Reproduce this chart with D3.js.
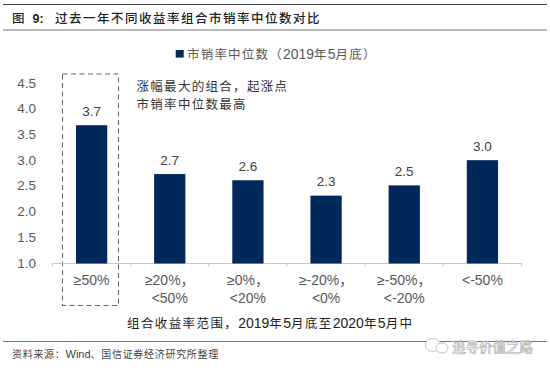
<!DOCTYPE html>
<html>
<head>
<meta charset="utf-8">
<script src="https://cdn.jsdelivr.net/npm/d3@7"></script>
<style>
  html, body { margin: 0; padding: 0; background: #fff; }
  text { font-family: "Liberation Sans", "Noto Sans CJK SC", sans-serif; }
</style>
</head>
<body>
<div id="app"></div>
<script>
// full-width punctuation, written as escapes
const comma = "\uFF0C", colon = "\uFF1A", lp = "\uFF08", rp = "\uFF09";

const categories = [["≥50%"], ["≥20%" + comma, "<50%"], ["≥0%" + comma, "<20%"], ["≥-20%" + comma, "<0%"], ["≥-50%" + comma, "<-20%"], ["<-50%"]];
const values = [3.69, 2.74, 2.62, 2.32, 2.52, 3.01];
const yTicks = [1.0, 1.5, 2.0, 2.5, 3.0, 3.5, 4.0, 4.5];

const titleText = "过去一年不同收益率组合市销率中位数对比";
const legendText = "市销率中位数" + lp + "2019年5月底" + rp;
const noteLines = ["涨幅最大的组合" + comma + "起涨点", "市销率中位数最高"];
const xTitle = "组合收益率范围" + comma + "2019年5月底至2020年5月中";
const sourceText = "资料来源" + colon + "Wind、国信证券经济研究所整理";
const watermark = "追寻价值之路";

const navy = "#00285A";
const gray = "#595959";

const svg = d3.select("#app").append("svg")
  .attr("width", 550)
  .attr("height", 370)
  .style("display", "block");

// CJK runs get extra tracking, latin and digits can have their own size
const mixedText = (sel, str, spacing, latinSize) => {
  str.match(/[\x20-\x7e]+|[^\x20-\x7e]+/g).forEach(run => {
    const latin = /^[\x20-\x7e]/.test(run);
    const span = sel.append("tspan")
      .attr("letter-spacing", latin ? 0 : spacing)
      .text(run);
    if (latin && latinSize) span.attr("font-size", latinSize);
  });
  return sel;
};

// rules around the title and above the source
[[4.5, "#444"], [30, "#777"], [341.5, "#777"]].forEach(([y, c]) => {
  svg.append("line")
    .attr("x1", 3).attr("x2", 547)
    .attr("y1", y).attr("y2", y)
    .attr("stroke", c).attr("stroke-width", 1);
});

const title = svg.append("g")
  .attr("font-size", 12.5)
  .attr("font-weight", 500)
  .attr("fill", "#222");
title.append("text").attr("x", 12).attr("y", 23).text("图");
title.append("text").attr("x", 32.5).attr("y", 23).attr("font-weight", 700).text("9:");
title.append("text").attr("x", 55).attr("y", 23).attr("letter-spacing", 1.5).text(titleText);

const x = d3.scaleBand()
  .domain(d3.range(values.length))
  .range([52.5, 521.5])
  .paddingInner(0.6)
  .paddingOuter(0.3);

const y = d3.scaleLinear()
  .domain([1, 4.5])
  .range([263.5, 83.6]);

// dashed box around the first group
svg.append("rect")
  .attr("x", 62.5).attr("y", 74)
  .attr("width", 56).attr("height", 231.5)
  .attr("fill", "none")
  .attr("stroke", "#666")
  .attr("stroke-width", 1.1)
  .attr("stroke-dasharray", "5,3.5");

const yAxis = d3.axisLeft(y)
  .tickValues(yTicks)
  .tickFormat(d3.format(".1f"))
  .tickSize(0)
  .tickPadding(0);

const gy = svg.append("g")
  .attr("transform", "translate(36,0)")
  .call(yAxis);
gy.select(".domain").remove();
gy.selectAll("text")
  .attr("font-size", 13.5)
  .attr("fill", gray)
  .attr("dy", "0.26em");

// axis line with ticks between the categories
const xBase = svg.append("g");
xBase.append("line")
  .attr("x1", x.range()[0]).attr("x2", x.range()[1])
  .attr("y1", y(1)).attr("y2", y(1))
  .attr("stroke", "#c8c8c8");
xBase.selectAll("line.tick")
  .data(d3.range(values.length + 1))
  .join("line")
  .attr("class", "tick")
  .attr("x1", i => x.range()[0] + i * x.step())
  .attr("x2", i => x.range()[0] + i * x.step())
  .attr("y1", y(1))
  .attr("y2", y(1) + 3)
  .attr("stroke", "#c8c8c8");

svg.selectAll("rect.bar")
  .data(values)
  .join("rect")
  .attr("class", "bar")
  .attr("x", (d, i) => x(i))
  .attr("y", d => y(d))
  .attr("width", x.bandwidth())
  .attr("height", d => y(1) - y(d))
  .attr("fill", navy);

svg.selectAll("text.val")
  .data(values)
  .join("text")
  .attr("class", "val")
  .attr("x", (d, i) => x(i) + x.bandwidth() / 2)
  .attr("y", d => y(d) - 9.5)
  .attr("text-anchor", "middle")
  .attr("font-size", 13.5)
  .attr("fill", "#404040")
  .text(d => d.toFixed(1));

const catGroups = svg.selectAll("g.cat")
  .data(categories)
  .join("g")
  .attr("class", "cat")
  .attr("transform", (d, i) => `translate(${x(i) + x.bandwidth() / 2},285)`);
catGroups.selectAll("text")
  .data(d => d)
  .join("text")
  .attr("y", (d, i) => i * 17.5)
  .attr("text-anchor", "middle")
  .attr("font-size", 14)
  .attr("fill", gray)
  .text(d => d);

// legend
svg.append("rect")
  .attr("x", 175.7).attr("y", 50)
  .attr("width", 8).attr("height", 7.6)
  .attr("fill", navy);
svg.append("text")
  .attr("x", 187).attr("y", 59)
  .attr("font-size", 12.5)
  .attr("fill", gray)
  .call(mixedText, legendText, 1.2, 14);

// note next to the box
svg.selectAll("text.note")
  .data(noteLines)
  .join("text")
  .attr("class", "note")
  .attr("x", 136.5)
  .attr("y", (d, i) => 91 + i * 18)
  .attr("font-size", 12.5)
  .attr("letter-spacing", 1.3)
  .attr("fill", "#333")
  .text(d => d);

svg.append("text")
  .attr("x", 127).attr("y", 327.5)
  .attr("font-size", 12.5)
  .attr("fill", "#222")
  .call(mixedText, xTitle, 1.4, 14);

svg.append("text")
  .attr("x", 12).attr("y", 358)
  .attr("font-size", 10)
  .attr("fill", "#444")
  .call(mixedText, sourceText, 0.7, 11);

// watermark: chat bubble outline and name
const wm = svg.append("g")
  .attr("fill", "#fff")
  .attr("stroke", "#c4c4c4")
  .attr("stroke-width", 1);
wm.append("ellipse").attr("cx", 433).attr("cy", 345).attr("rx", 7.5).attr("ry", 6.5);
wm.append("ellipse").attr("cx", 442).attr("cy", 348).attr("rx", 6).attr("ry", 5);
svg.append("text")
  .attr("x", 452).attr("y", 352)
  .attr("font-size", 13.5)
  .attr("font-weight", 500)
  .attr("fill", "#fff")
  .attr("stroke", "#a8a8a8")
  .attr("stroke-width", 0.6)
  .text(watermark);
</script>
</body>
</html>
